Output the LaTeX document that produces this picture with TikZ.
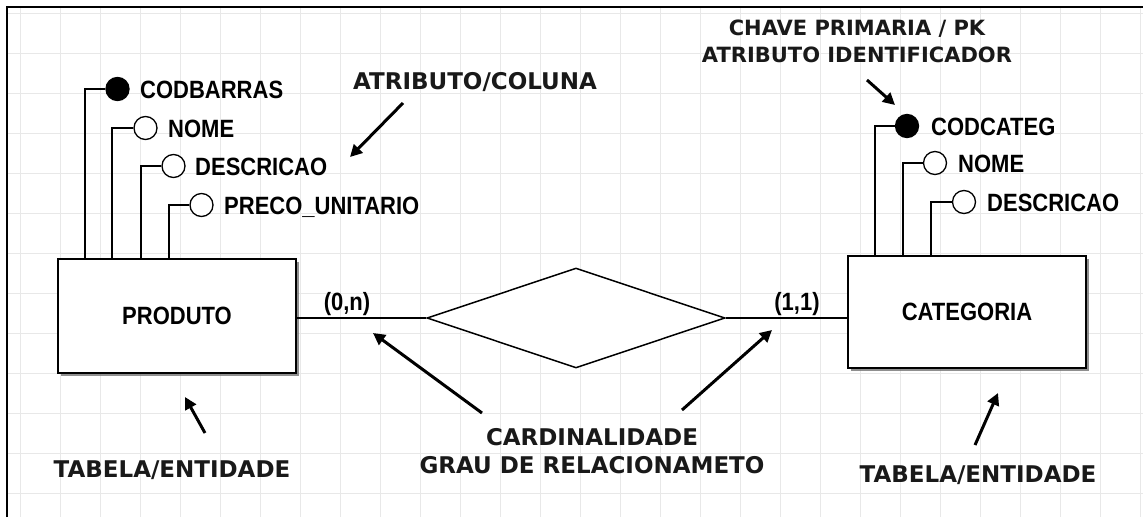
\documentclass[tikz,border=0pt]{standalone}
\usepackage{fontspec}
\setmainfont{Liberation Sans}
\newfontfamily\annfont{DejaVu Sans}
\newfontfamily\attfont[FakeStretch=0.88]{Liberation Sans}
\usetikzlibrary{arrows.meta,shadows,shapes.geometric}
\definecolor{gridc}{RGB}{232,232,232}
\begin{document}
\begin{tikzpicture}[x=1pt,y=-1pt,
  attr/.style={font=\attfont\bfseries\fontsize{25}{28}\selectfont, inner sep=0pt, anchor=base west, text=black},
  card/.style={font=\attfont\bfseries\fontsize{25}{28}\selectfont, inner sep=0pt, anchor=base, text=black},
  ann/.style={font=\annfont\bfseries\fontsize{23}{28}\selectfont, inner sep=0pt, align=center, text=black!90},
  ent/.style={draw, line width=2pt, fill=white, minimum width=238pt, inner sep=0pt,
    font=\attfont\bfseries\fontsize{25}{28}\selectfont,
    drop shadow={shadow xshift=3pt, shadow yshift=-3pt, fill=black!55, opacity=0.8}},
  pk/.style={circle, draw, fill=black, minimum size=23pt, inner sep=0pt, line width=1.3pt},
  att/.style={circle, draw, fill=white, minimum size=23pt, inner sep=0pt, line width=1.3pt},
  conn/.style={line width=1.5pt},
  note/.style={line width=3pt, -{Triangle[length=12pt,width=12pt]}}
]
\useasboundingbox (0,0) rectangle (1143,517);
\fill[white] (0,0) rectangle (1143,517);
% grid
\foreach \gx in {20,60,...,1140} \draw[gridc, line width=1pt] (\gx,8) -- (\gx,517);
\foreach \gy in {13,53,...,493} \draw[gridc, line width=1pt] (8,\gy) -- (1143,\gy);
% frame
\draw[line width=2pt] (7,517) -- (7,7) -- (1143,7);

% entities
\node[ent, minimum height=114pt] (prod) at (177,316) {PRODUTO};
\node[ent, minimum height=112pt] (cat) at (967,312) {CATEGORIA};

% relationship
\node[diamond, draw, line width=1.5pt, fill=white, minimum width=298pt, minimum height=100pt, inner sep=0pt] (rel) at (576,318) {};
\draw[conn] (prod.east |- rel.west) -- (rel.west);
\draw[conn] (rel.east) -- (rel.east -| cat.west);
\node[card] (c0n) at (347,310) {(0,n)};
\node[card] (c11) at (797,310) {(1,1)};

% attributes of PRODUTO
\node[pk]  (pa1) at (117.5,89) {};
\node[att] (pa2) at (145.5,128) {};
\node[att] (pa3) at (173.5,166) {};
\node[att] (pa4) at (201.5,205) {};
\draw[conn] ([xshift=28pt]prod.north west) |- (pa1);
\draw[conn] ([xshift=55pt]prod.north west) |- (pa2);
\draw[conn] ([xshift=84pt]prod.north west) |- (pa3);
\draw[conn] ([xshift=112pt]prod.north west) |- (pa4);
\node[attr] (pt1) at (140,98) {CODBARRAS};
\node[attr] (pt2) at (168,137) {NOME};
\node[attr] (pt3) at (195,175) {DESCRICAO};
\node[attr] (pt4) at (224,214) {PRECO\_UNITARIO};

% attributes of CATEGORIA
\node[pk]  (ca1) at (907,126) {};
\node[att] (ca2) at (935,163) {};
\node[att] (ca3) at (964,202) {};
\draw[conn] ([xshift=28pt]cat.north west) |- (ca1);
\draw[conn] ([xshift=56pt]cat.north west) |- (ca2);
\draw[conn] ([xshift=84pt]cat.north west) |- (ca3);
\node[attr] (ct1) at (931,135) {CODCATEG};
\node[attr] (ct2) at (958,172) {NOME};
\node[attr] (ct3) at (987,211) {DESCRICAO};

% annotations
\node[ann] (lcol) at (475,82) {ATRIBUTO/COLUNA};
\coordinate (lcolT) at (403,103);
\coordinate (lcolH) at (350,157);
\draw[note] (lcolT) -- (lcolH);

\node[ann, font=\annfont\bfseries\fontsize{21}{27}\selectfont] (lpk) at (857,41) {CHAVE PRIMARIA / PK\\ATRIBUTO IDENTIFICADOR};
\coordinate (lpkT) at (867,80);
\coordinate (lpkH) at (895,105);
\draw[note] (lpkT) -- (lpkH);

\node[ann] (lcard) at (592,451) {CARDINALIDADE\\GRAU DE RELACIONAMETO};
\coordinate (lcardT1) at (482,413);
\coordinate (lcardH1) at (373,333);
\coordinate (lcardT2) at (682,410);
\coordinate (lcardH2) at (772,330);
\draw[note] (lcardT1) -- (lcardH1);
\draw[note] (lcardT2) -- (lcardH2);

\node[ann] (lent1) at (172,470) {TABELA/ENTIDADE};
\coordinate (lent1T) at (205,433);
\coordinate (lent1H) at (185,397);
\draw[note] (lent1T) -- (lent1H);

\node[ann] (lent2) at (978,475) {TABELA/ENTIDADE};
\coordinate (lent2T) at (975,445);
\coordinate (lent2H) at (998,393);
\draw[note] (lent2T) -- (lent2H);
\end{tikzpicture}
\end{document}
